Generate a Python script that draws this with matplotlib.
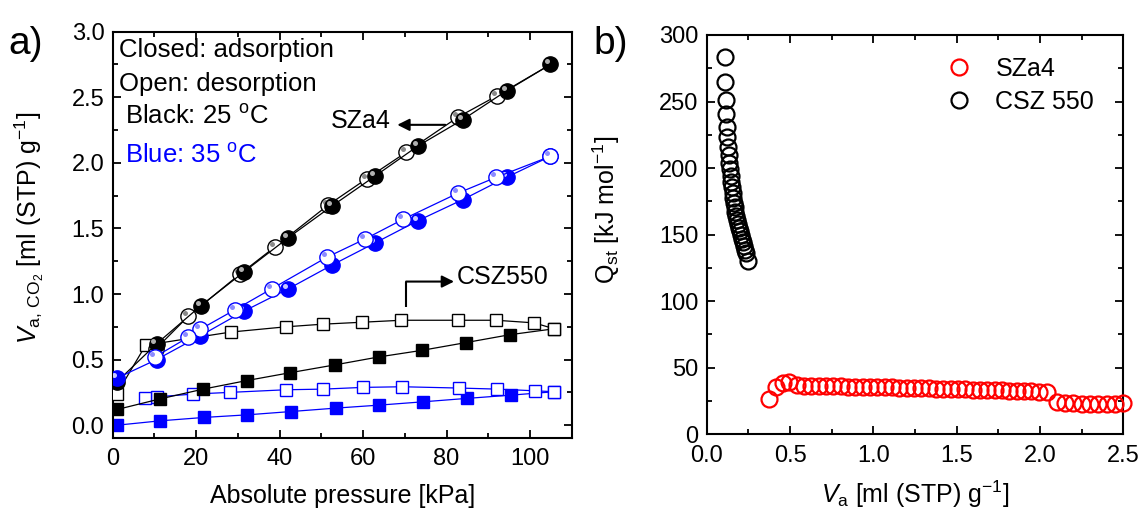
import matplotlib
matplotlib.use("Agg")
import matplotlib.pyplot as plt
from matplotlib.ticker import MultipleLocator
from matplotlib.transforms import offset_copy

plt.rcParams['font.family'] = ['Liberation Sans', 'DejaVu Sans']
plt.rcParams['mathtext.fontset'] = 'custom'
plt.rcParams['mathtext.rm'] = 'Liberation Sans'
plt.rcParams['mathtext.it'] = 'Liberation Sans:italic'
plt.rcParams['mathtext.bf'] = 'Liberation Sans:bold'

# ---------------- data: panel a ----------------
p_sza4_25_ads = [1.0, 10.5, 21.1, 31.5, 42.1, 52.5, 62.9, 73.2, 83.9, 94.4, 104.9]
v_sza4_25_ads = [0.33, 0.62, 0.91, 1.17, 1.43, 1.67, 1.90, 2.13, 2.33, 2.55, 2.75]
p_sza4_25_des = [104.9, 92.0, 82.8, 70.3, 60.9, 51.7, 38.9, 30.4, 18.1, 10.3]
v_sza4_25_des = [2.75, 2.51, 2.35, 2.08, 1.88, 1.68, 1.36, 1.15, 0.83, 0.58]

p_sza4_35_ads = [1.1, 10.5, 20.9, 31.5, 42.1, 52.5, 62.9, 73.2, 83.9, 94.4, 104.9]
v_sza4_35_ads = [0.36, 0.50, 0.68, 0.87, 1.04, 1.22, 1.39, 1.56, 1.72, 1.89, 2.05]
p_sza4_35_des = [104.9, 91.9, 82.8, 69.6, 60.5, 51.3, 38.1, 29.3, 20.9, 18.1, 10.1]
v_sza4_35_des = [2.05, 1.89, 1.77, 1.57, 1.42, 1.28, 1.04, 0.88, 0.73, 0.67, 0.52]

p_csz_25_ads = [1.1, 11.3, 21.7, 32.1, 42.5, 53.3, 63.7, 74.0, 84.7, 95.2, 105.8]
v_csz_25_ads = [0.12, 0.20, 0.275, 0.34, 0.40, 0.46, 0.52, 0.57, 0.63, 0.69, 0.735]
p_csz_25_des = [105.8, 101.0, 91.9, 82.8, 69.2, 59.8, 50.3, 41.5, 28.3, 7.9, 1.0]
v_csz_25_des = [0.735, 0.78, 0.80, 0.80, 0.80, 0.785, 0.77, 0.75, 0.71, 0.61, 0.24]

p_csz_35_ads = [1.1, 11.3, 21.9, 32.3, 42.7, 53.4, 63.9, 74.3, 84.8, 95.4, 105.8]
v_csz_35_ads = [0.0, 0.033, 0.059, 0.079, 0.104, 0.130, 0.153, 0.178, 0.204, 0.229, 0.255]
p_csz_35_des = [105.8, 101.2, 92.2, 83.1, 69.4, 59.9, 50.5, 41.5, 28.0, 19.3, 10.5, 7.7]
v_csz_35_des = [0.255, 0.262, 0.275, 0.283, 0.293, 0.288, 0.275, 0.270, 0.250, 0.237, 0.216, 0.206]

# ---------------- data: panel b ----------------
va_sza4 = [0.374, 0.416, 0.455, 0.496, 0.54, 0.584, 0.628, 0.672, 0.716, 0.76,
           0.804, 0.848, 0.892, 0.936, 0.98, 1.024, 1.068, 1.112, 1.156, 1.20,
           1.244, 1.288, 1.332, 1.376, 1.42, 1.464, 1.508, 1.552, 1.596, 1.64,
           1.684, 1.728, 1.772, 1.816, 1.86, 1.904, 1.948, 1.992, 2.04, 2.10,
           2.15, 2.20, 2.25, 2.30, 2.35, 2.40, 2.45, 2.50]
qst_sza4 = [26.5, 35.3, 38.5, 39.5, 37.2, 36.6, 36.3, 36.1, 36.0, 36.0,
            36.0, 35.9, 35.8, 35.7, 35.6, 35.5, 35.3, 35.2, 35.0, 34.9,
            34.8, 34.6, 34.5, 34.4, 34.2, 34.1, 33.9, 33.8, 33.6, 33.5,
            33.3, 33.2, 33.0, 32.9, 32.7, 32.5, 32.3, 32.1, 31.5, 24.5,
            23.8, 23.3, 22.9, 22.7, 22.6, 22.8, 23.0, 23.3]
va_csz = [0.110, 0.110, 0.114, 0.116, 0.120, 0.124, 0.128, 0.132, 0.136, 0.140,
          0.144, 0.148, 0.152, 0.156, 0.160, 0.164, 0.168, 0.172, 0.176, 0.180,
          0.186, 0.192, 0.198, 0.204, 0.210, 0.216, 0.222, 0.228, 0.234, 0.250]
qst_csz = [283.2, 264.9, 251.2, 240.6, 231.1, 223.1, 216.1, 209.8, 204.1, 199.1,
           194.3, 189.8, 185.6, 181.5, 177.8, 174.0, 170.5, 167.2, 164.0, 161.0,
           158.0, 155.2, 152.5, 149.7, 147.0, 144.3, 141.5, 138.7, 136.0, 130.4]

BLUE = '#0000ff'
RED = '#ff0000'

fig = plt.figure(figsize=(11.43, 5.19), dpi=100)
axa = fig.add_axes([0.0986, 0.1555, 0.4016, 0.7834])
axb = fig.add_axes([0.6183, 0.1632, 0.3645, 0.7694])

def style(ax):
    for s in ax.spines.values():
        s.set_linewidth(1.5)
    ax.tick_params(which='both', direction='in', top=True, right=True,
                   labelsize=17, width=1.3)
    ax.tick_params(which='major', length=6, pad=6)
    ax.tick_params(which='minor', length=3.5)

zc = [2]
def series(ax, x, y, color, marker, filled, ms, hl_color=None, skip_first=False, lw=0.9):
    z = zc[0]
    zc[0] += 2
    me = slice(1, None) if skip_first else None
    ax.plot(x, y, '-', color=color, lw=lw, marker=marker, ms=ms,
            mfc=(color if filled else 'white'), mec=color, mew=1.0,
            markevery=me, zorder=z)
    if hl_color is not None:
        tr = offset_copy(ax.transData, fig=fig, x=-2.2, y=2.2, units='points')
        xs = x[1:] if skip_first else x
        ys = y[1:] if skip_first else y
        ax.plot(xs, ys, 'o', ms=3.6, mfc=hl_color, mec='none',
                transform=tr, zorder=z + 1)

# ---------- panel a ----------
series(axa, p_csz_35_ads, v_csz_35_ads, BLUE, 's', True, 8)
series(axa, p_csz_35_des, v_csz_35_des, BLUE, 's', False, 8)
series(axa, p_csz_25_ads, v_csz_25_ads, 'black', 's', True, 8)
series(axa, p_csz_25_des, v_csz_25_des, 'black', 's', False, 8)
series(axa, p_sza4_25_des, v_sza4_25_des, 'black', 'o', False, 11, hl_color='#8a8a8a', skip_first=True)
series(axa, p_sza4_25_ads, v_sza4_25_ads, 'black', 'o', True, 11, hl_color='#b0b0b0')
series(axa, p_sza4_35_ads, v_sza4_35_ads, BLUE, 'o', True, 11, hl_color='#c8c8ff')
series(axa, p_sza4_35_des, v_sza4_35_des, BLUE, 'o', False, 11, hl_color='#8c8cff')

axa.set_xlim(0, 110)
axa.set_ylim(-0.1, 3.0)
axa.xaxis.set_major_locator(MultipleLocator(20))
axa.xaxis.set_minor_locator(MultipleLocator(10))
axa.yaxis.set_major_locator(MultipleLocator(0.5))
axa.yaxis.set_minor_locator(MultipleLocator(0.25))
axa.yaxis.set_major_formatter(matplotlib.ticker.FormatStrFormatter('%.1f'))
style(axa)
axa.tick_params(axis='x', which='major', pad=7)
axa.set_xlabel('Absolute pressure [kPa]', fontsize=18, labelpad=10)
axa.set_ylabel(r'$V_{\mathrm{a,\,CO_2}}$ [ml (STP) g$^{-1}$]', fontsize=18)
axa.yaxis.set_label_coords(-0.145, 0.517)

axa.text(1.6, 2.86, 'Closed: adsorption', fontsize=18.5, va='center', ha='left')
axa.text(1.6, 2.605, 'Open: desorption', fontsize=18.5, va='center', ha='left')
axa.text(2.95, 2.35, r'Black: 25 $^{\mathrm{o}}$C', fontsize=18.5, va='center', ha='left')
axa.text(2.95, 2.057, r'Blue: 35 $^{\mathrm{o}}$C', fontsize=18.5, va='center', ha='left', color=BLUE)

axa.text(52.3, 2.32, 'SZa4', fontsize=18, va='center', ha='left')
axa.annotate('', xy=(68.2, 2.29), xytext=(79.7, 2.29),
             arrowprops=dict(arrowstyle='-|>', color='black', lw=1.5,
                             mutation_scale=18, shrinkA=0, shrinkB=0))
axa.text(82.5, 1.128, 'CSZ550', fontsize=18, va='center', ha='left')
axa.plot([70.3, 70.3], [0.899, 1.095], color='black', lw=1.5, solid_capstyle='butt')
axa.annotate('', xy=(81.8, 1.095), xytext=(70.3, 1.095),
             arrowprops=dict(arrowstyle='-|>', color='black', lw=1.5,
                             mutation_scale=18, shrinkA=0, shrinkB=0))

# ---------- panel b ----------
axb.plot(va_sza4, qst_sza4, 'o', ms=11.5, mfc='none', mec=RED, mew=1.6, label='SZa4', clip_on=False, zorder=3)
axb.plot(va_csz, qst_csz, 'o', ms=11.5, mfc='none', mec='black', mew=1.6, label='CSZ 550', zorder=3)
axb.set_xlim(0, 2.5)
axb.set_ylim(0, 300)
axb.xaxis.set_major_locator(MultipleLocator(0.5))
axb.xaxis.set_minor_locator(MultipleLocator(0.25))
axb.yaxis.set_major_locator(MultipleLocator(50))
axb.yaxis.set_minor_locator(MultipleLocator(25))
axb.xaxis.set_major_formatter(matplotlib.ticker.FormatStrFormatter('%.1f'))
style(axb)
axb.tick_params(axis='x', which='major', pad=8)
axb.set_xlabel(r'$V_{\mathrm{a}}$ [ml (STP) g$^{-1}$]', fontsize=18, labelpad=8)
axb.set_ylabel(r'Q$_{\mathrm{st}}$ [kJ mol$^{-1}$]', fontsize=18)
axb.yaxis.set_label_coords(-0.203, 0.562)
axb.legend(loc='upper left', bbox_to_anchor=(0.576, 0.945), frameon=False,
           fontsize=18, handlelength=1.0, handletextpad=0.95, borderpad=0,
           borderaxespad=0, labelspacing=0.35)

fig.text(0.007, 0.915, 'a)', fontsize=28, ha='left', va='center')
fig.text(0.519, 0.915, 'b)', fontsize=28, ha='left', va='center')

fig.savefig('out.png', dpi=100)
